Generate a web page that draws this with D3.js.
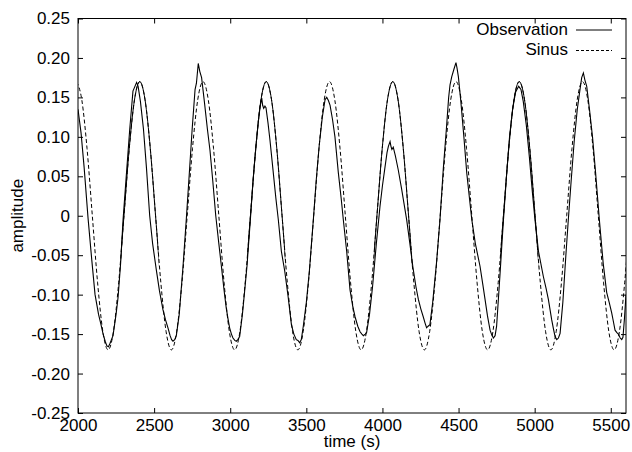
<!DOCTYPE html>
<html><head><meta charset="utf-8">
<script src="https://cdn.jsdelivr.net/npm/d3@7"></script>
<style>
html,body{margin:0;padding:0;background:#fff;}
text{font-family:"Liberation Sans",Arial,Helvetica,sans-serif;font-size:17px;fill:#000;}
</style></head>
<body><svg id="c" width="632" height="452"></svg>
<script>
const xTicks = [2000,2500,3000,3500,4000,4500,5000,5500];
const yTicks = [-0.25,-0.20,-0.15,-0.10,-0.05,0,0.05,0.10,0.15,0.20,0.25];
const seriesNames = ["Observation","Sinus"];
const xTitle = "time (s)", yTitle = "amplitude";

const sinusTime = [1990.3,2024.9,2059.5,2094.1,2128.8,2163.4,2198.0,2232.6,2267.3,2301.9,2336.5,2371.1,
2405.8,2440.4,2475.0,2509.6,2544.3,2578.9,2613.5,2648.1,2682.8,2717.4,2752.0,2786.6,
2821.3,2855.9,2890.5,2925.1,2959.8,2994.4,3029.0,3063.6,3098.3,3132.9,3167.5,3202.1,
3236.8,3271.4,3306.0,3340.6,3375.3,3409.9,3444.5,3479.1,3513.8,3548.4,3583.0,3617.6,
3652.3,3686.9,3721.5,3756.1,3790.8,3825.4,3860.0,3894.6,3929.3,3963.9,3998.5,4033.1,
4067.8,4102.4,4137.0,4171.6,4206.3,4240.9,4275.5,4310.1,4344.8,4379.4,4414.0,4448.6,
4483.3,4517.9,4552.5,4587.1,4621.8,4656.4,4691.0,4725.6,4760.3,4794.9,4829.5,4864.1,
4898.8,4933.4,4968.0,5002.6,5037.3,5071.9,5106.5,5141.1,5175.8,5210.4,5245.0,5279.6,
5314.3,5348.9,5383.5,5418.1,5452.8,5487.4,5522.0,5556.6,5591.3,5625.9];
const sinusValue = [0.170,0.147,0.085,0,-0.085,-0.147,-0.170,-0.147,-0.085,0,0.085,0.147,
0.170,0.147,0.085,0,-0.085,-0.147,-0.170,-0.147,-0.085,0,0.085,0.147,
0.170,0.147,0.085,0,-0.085,-0.147,-0.170,-0.147,-0.085,0,0.085,0.147,
0.170,0.147,0.085,0,-0.085,-0.147,-0.170,-0.147,-0.085,0,0.085,0.147,
0.170,0.147,0.085,0,-0.085,-0.147,-0.170,-0.147,-0.085,0,0.085,0.147,
0.170,0.147,0.085,0,-0.085,-0.147,-0.170,-0.147,-0.085,0,0.085,0.147,
0.170,0.147,0.085,0,-0.085,-0.147,-0.170,-0.147,-0.085,0,0.085,0.147,
0.170,0.147,0.085,0,-0.085,-0.147,-0.170,-0.147,-0.085,0,0.085,0.147,
0.170,0.147,0.085,0,-0.085,-0.147,-0.170,-0.147,-0.085,0];
// time windows where the dashed Sinus line renders as solid in the original
const sinusSolidSpans = [[2280,2530],[3112,3362],[3943,4193],[4774,5024]];

const obsTime = [2000,2020,2040,2066,2090,2112,2135,2150,2165,2180,2190,2200,2210,2230,2250,2263,2280,2296,2315,2340,2361,2372,2385,2395,2410,2430,2450,2471,2490,2514,2535,2558,2575,2591,2605,2615,2624,2635,2646,2665,2690,2712,2730,2750,2769,2778,2790,2800,2812,2830,2850,2867,2885,2905,2925,2942,2960,2974,2985,2996,3008,3018,3030,3040,3050,3062,3080,3095,3110,3133,3150,3170,3185,3196,3207,3213,3220,3228,3235,3248,3261,3280,3300,3316,3336,3358,3380,3402,3418,3434,3445,3456,3467,3480,3500,3520,3546,3565,3585,3605,3623,3634,3645,3656,3672,3688,3710,3730,3743,3765,3787,3805,3820,3838,3853,3865,3875,3887,3896,3915,3935,3960,3984,4000,4017,4030,4039,4050,4056,4062,4071,4085,4104,4125,4159,4180,4200,4220,4236,4252,4268,4280,4290,4300,4312,4330,4355,4378,4400,4420,4435,4444,4455,4470,4483,4490,4499,4515,4535,4554,4570,4587,4610,4641,4660,4674,4690,4707,4718,4729,4740,4750,4772,4795,4815,4835,4855,4875,4895,4910,4925,4945,4965,4985,5002,5025,5057,5075,5090,5112,5125,5134,5145,5156,5167,5185,5205,5221,5240,5260,5280,5300,5309,5320,5330,5342,5360,5380,5400,5425,5450,5473,5490,5506,5518,5528,5540,5550,5562,5572,5580,5590,5600];
const obsValue = [0.135,0.105,0.062,-0.003,-0.055,-0.100,-0.125,-0.137,-0.150,-0.160,-0.165,-0.166,-0.162,-0.152,-0.125,-0.104,-0.060,-0.005,0.045,0.110,0.158,0.163,0.169,0.164,0.145,0.110,0.060,0.000,-0.035,-0.068,-0.095,-0.119,-0.132,-0.142,-0.152,-0.157,-0.159,-0.157,-0.152,-0.125,-0.064,-0.003,0.050,0.110,0.160,0.168,0.193,0.183,0.175,0.145,0.110,0.083,0.045,0.000,-0.035,-0.064,-0.095,-0.117,-0.130,-0.142,-0.150,-0.155,-0.158,-0.159,-0.157,-0.153,-0.125,-0.095,-0.064,-0.003,0.045,0.090,0.120,0.138,0.149,0.140,0.136,0.139,0.137,0.118,0.096,0.060,0.022,-0.005,-0.045,-0.070,-0.102,-0.138,-0.150,-0.157,-0.158,-0.161,-0.157,-0.140,-0.110,-0.070,-0.005,0.045,0.090,0.125,0.147,0.150,0.146,0.140,0.122,0.100,0.055,0.020,-0.005,-0.045,-0.094,-0.115,-0.128,-0.140,-0.147,-0.150,-0.152,-0.150,-0.148,-0.125,-0.090,-0.035,0.012,0.038,0.062,0.080,0.088,0.094,0.088,0.084,0.087,0.076,0.058,0.035,-0.005,-0.035,-0.065,-0.090,-0.106,-0.118,-0.128,-0.136,-0.142,-0.140,-0.138,-0.110,-0.060,-0.005,0.060,0.110,0.150,0.166,0.176,0.186,0.194,0.187,0.176,0.145,0.100,0.054,0.025,-0.005,-0.035,-0.064,-0.088,-0.106,-0.127,-0.145,-0.151,-0.155,-0.152,-0.140,-0.075,-0.005,0.050,0.100,0.135,0.157,0.164,0.160,0.145,0.115,0.075,0.030,-0.005,-0.045,-0.077,-0.092,-0.106,-0.132,-0.145,-0.153,-0.157,-0.155,-0.149,-0.110,-0.050,-0.005,0.045,0.095,0.135,0.163,0.175,0.181,0.172,0.164,0.135,0.100,0.055,-0.005,-0.060,-0.097,-0.110,-0.123,-0.135,-0.145,-0.148,-0.150,-0.155,-0.157,-0.154,-0.130,-0.100];

const L=78, R=626, T=18.5, B=413;
const svg = d3.select("#c");
const x = d3.scaleLinear().domain([2000,5600]).range([L,R]);
const y = d3.scaleLinear().domain([-0.25,0.25]).range([B,T]);

svg.append("defs").append("clipPath").attr("id","clip")
  .append("rect").attr("x",L).attr("y",T).attr("width",R-L).attr("height",B-T);

const fmtY = v => Math.abs(v)<1e-9 ? "0" : v.toFixed(2);

function styleAxis(g){
  g.select(".domain").remove();
  g.selectAll("line").attr("stroke","#000").attr("stroke-width",1);
  g.selectAll("text").style("font-size","17px").attr("fill","#000");
}
svg.append("g").attr("transform",`translate(0,${B})`)
  .call(d3.axisBottom(x).tickValues(xTicks).tickSize(-5).tickSizeOuter(0).tickPadding(6).tickFormat(d3.format("d")))
  .call(styleAxis);
svg.append("g").attr("transform",`translate(0,${T})`)
  .call(d3.axisTop(x).tickValues(xTicks).tickSize(-5).tickSizeOuter(0).tickFormat(""))
  .call(styleAxis);
svg.append("g").attr("transform",`translate(${L},0)`)
  .call(d3.axisLeft(y).tickValues(yTicks).tickSize(-5).tickSizeOuter(0).tickPadding(8).tickFormat(fmtY))
  .call(styleAxis);
svg.append("g").attr("transform",`translate(${R},0)`)
  .call(d3.axisRight(y).tickValues(yTicks).tickSize(-5).tickSizeOuter(0).tickFormat(""))
  .call(styleAxis);
svg.selectAll("g text").attr("font-family",null);

svg.append("rect").attr("x",L).attr("y",T).attr("width",R-L).attr("height",B-T)
  .attr("fill","none").attr("stroke","#000").attr("stroke-width",1);

const sinus = sinusTime.map((t,i)=>({t, v: sinusValue[i]}));
const obs = obsTime.map((t,i)=>({t, v: obsValue[i]}));
const line = d3.line().x(d=>x(d.t)).y(d=>y(d.v)).curve(d3.curveMonotoneX);
const plot = svg.append("g").attr("clip-path","url(#clip)");

plot.append("path").datum(sinus).attr("d",line)
  .attr("fill","none").attr("stroke","#000").attr("stroke-width",1).attr("stroke-dasharray","4,2.5");
sinusSolidSpans.forEach(([a,b])=>{
  plot.append("clipPath").attr("id",`sp${a}`).append("rect")
    .attr("x",x(a)).attr("y",T).attr("width",x(b)-x(a)).attr("height",B-T);
  plot.append("g").attr("clip-path",`url(#sp${a})`).append("path").datum(sinus).attr("d",line)
    .attr("fill","none").attr("stroke","#000").attr("stroke-width",1);
});
plot.append("path").datum(obs).attr("d",line.curve(d3.curveLinear))
  .attr("fill","none").attr("stroke","#000").attr("stroke-width",1.1);

// legend
const leg = svg.append("g");
leg.append("text").attr("x",568).attr("y",34.5).attr("text-anchor","end").text(seriesNames[0]);
leg.append("line").attr("x1",576).attr("x2",612).attr("y1",30).attr("y2",30).attr("stroke","#000");
leg.append("text").attr("x",568).attr("y",54.5).attr("text-anchor","end").text(seriesNames[1]);
leg.append("line").attr("x1",576).attr("x2",612).attr("y1",50.5).attr("y2",50.5).attr("stroke","#000").attr("stroke-dasharray","3,2");

svg.append("text").attr("x",(L+R)/2).attr("y",447).attr("text-anchor","middle").text(xTitle);
svg.append("text").attr("transform",`translate(23,${(T+B)/2}) rotate(-90)`).attr("text-anchor","middle").text(yTitle);
</script></body></html>
